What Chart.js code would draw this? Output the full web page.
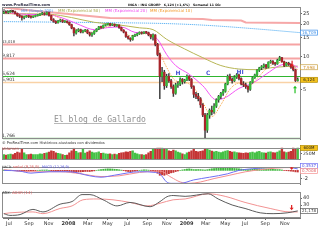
<!DOCTYPE html>
<html lang="es">
<head>
<meta charset="utf-8">
<title>INGA - ING GROEP semanal</title>
<script src="https://cdn.jsdelivr.net/npm/chart.js@4.4.1/dist/chart.umd.min.js"></script>
<style>
  body { margin: 0; width: 320px; height: 240px; overflow: hidden; background: #fff; position: relative; }
  canvas { position: absolute; left: 0; }
</style>
</head>
<body>
<canvas id="precio" width="320" height="144" style="top:0px"></canvas>
<canvas id="volumen" width="320" height="19" style="top:144px"></canvas>
<canvas id="macd" width="320" height="25" style="top:163px"></canvas>
<canvas id="adx" width="320" height="52" style="top:188px"></canvas>
<script>
// ---- datos semanales (viernes), desde el 15 jun 2007 hasta el 11 dic 2009 ----
const apertura = [25.3,25.8,25.5,25.9,26.3,26.0,25.2,24.0,23.6,23.0, 23.4,23.8,23.5,23.2,23.6,24.0,24.2,24.8,25.3,24.6,
  25.6,24.0,22.0,21.2,20.6,21.4,21.8,21.0,21.3,20.8, 19.8,18.4,16.6,17.4,17.8,16.9,17.3,17.6,16.6,15.9,
  16.4,17.2,18.0,18.9,18.6,19.5,19.9,20.2,19.6,20.0, 19.3,19.6,18.6,17.6,16.9,15.4,14.8,14.4,15.6,15.9,
  16.3,16.8,16.5,16.9,16.7,15.9,15.2,15.9,13.0,10.5, 6.6,7.2,5.4,6.6,6.0,5.3,4.6,5.5,5.6,6.2,
  5.9,6.1,6.6,6.2,5.3,4.5,4.3,4.1,3.6,2.9, 2.1,2.9,3.2,3.1,3.5,4.0,4.3,4.6,4.8,5.6,
  6.6,6.2,6.0,6.5,6.8,6.3,5.6,5.5,5.3,5.0, 5.8,6.4,6.8,7.5,7.9,8.1,8.4,8.0,8.9,9.1,
  8.7,8.6,9.3,9.8,9.0,8.3,8.7,8.5,8.0,7.6, 6.03];
const maximo = [26.2,26.3,26.2,26.8,26.9,26.4,25.4,24.5,24.0,23.8, 24.1,24.2,23.9,23.9,24.3,24.6,25.1,25.7,25.5,26.0,
  25.8,24.2,22.5,21.6,21.7,22.2,22.0,21.6,21.5,21.0, 20.0,18.6,17.8,18.2,18.0,17.6,17.9,17.8,16.9,16.7,
  17.4,18.2,19.1,19.2,19.7,20.1,20.5,20.4,20.2,20.1, 19.8,19.7,18.8,17.8,17.0,15.6,15.0,15.8,16.2,16.5,
  17.0,17.0,17.1,17.2,16.9,16.0,16.3,16.0,13.3,10.8, 8.0,7.5,6.9,7.0,6.2,5.5,5.7,5.9,6.4,6.3,
  6.2,6.8,6.7,6.3,5.4,4.7,4.6,4.2,3.7,3.0, 3.0,3.3,3.5,3.7,4.1,4.4,4.7,5.0,5.7,6.8,
  6.9,6.4,6.7,7.0,6.9,6.4,5.9,5.7,5.4,5.9, 6.5,6.9,7.6,8.0,8.3,8.6,8.5,9.0,9.3,9.2,
  8.9,9.5,10.1,9.9,9.1,8.9,8.9,8.6,8.1,7.7, 6.4];
const minimo = [25.0,25.2,25.1,25.7,25.6,24.9,23.6,23.0,21.8,22.3, 23.1,23.0,22.7,22.9,23.3,23.7,24.0,24.5,24.2,24.4,
  23.7,21.6,20.8,20.2,20.4,21.1,20.7,20.8,20.5,19.5, 18.1,15.6,16.2,17.0,16.6,16.6,17.0,16.3,15.5,15.4,
  16.1,17.0,17.8,18.3,18.4,19.2,19.6,19.3,19.4,19.0, 19.1,18.3,17.3,16.6,15.1,14.5,13.9,14.2,15.3,15.6,
  16.1,16.2,16.3,16.4,15.6,14.6,14.2,12.6,10.2,4.1, 5.9,5.0,5.2,5.8,5.1,4.3,4.5,5.2,5.4,5.6,
  5.7,6.0,6.0,5.1,4.2,4.1,3.9,3.4,2.8,1.766, 2.0,2.7,2.9,3.0,3.4,3.8,4.1,4.4,4.7,5.5,
  6.0,5.7,5.9,6.3,6.1,5.5,5.3,5.1,4.7,4.9, 5.7,6.3,6.7,7.3,7.6,7.9,7.8,7.9,8.7,8.5,
  8.3,8.5,9.2,8.9,8.1,8.2,8.3,7.8,7.4,5.9, 5.95];
const cierre = [25.8,25.5,25.9,26.3,26.0,25.2,24.0,23.6,23.0,23.4, 23.8,23.5,23.2,23.6,24.0,24.2,24.8,25.3,24.6,25.6,
  24.0,22.0,21.2,20.6,21.4,21.8,21.0,21.3,20.8,19.8, 18.4,16.6,17.4,17.8,16.9,17.3,17.6,16.6,15.9,16.4,
  17.2,18.0,18.9,18.6,19.5,19.9,20.2,19.6,20.0,19.3, 19.6,18.6,17.6,16.9,15.4,14.8,14.4,15.6,15.9,16.3,
  16.8,16.5,16.9,16.7,15.9,15.2,15.9,13.0,10.5,6.6, 7.2,5.4,6.6,6.0,5.3,4.6,5.5,5.6,6.2,5.9,
  6.1,6.6,6.2,5.3,4.5,4.3,4.1,3.6,2.9,2.1, 2.9,3.2,3.1,3.5,4.0,4.3,4.6,4.8,5.6,6.6,
  6.2,6.0,6.5,6.8,6.3,5.6,5.5,5.3,5.0,5.8, 6.4,6.8,7.5,7.9,8.1,8.4,8.0,8.9,9.1,8.7,
  8.6,9.3,9.8,9.0,8.3,8.7,8.5,8.0,7.6,6.03, 6.124];
// volumen en millones
const volumen = [220,190,210,240,220,270,330,300,460,300, 220,210,240,220,210,220,250,240,270,300,
  330,390,360,300,270,250,220,180,190,300, 390,510,360,300,310,450,280,330,390,330,
  300,310,340,270,280,250,240,250,220,240, 220,270,300,310,340,330,360,390,280,250,
  220,210,190,220,300,360,480,450,530,530, 530,480,450,390,360,420,390,330,300,250,
  220,300,330,390,450,360,340,360,390,450, 460,420,370,340,360,330,310,340,370,400,
  360,330,340,310,300,280,270,300,280,310, 330,300,340,360,310,300,280,330,340,310,
  300,330,390,600,340,310,330,360,600,480, 600];
// histograma MACD
const histograma = [0.05,0.03,0.02,0.04,-0.02,-0.08,-0.15,-0.2,-0.25,-0.22, -0.18,-0.15,-0.12,-0.08,-0.04,0,0.04,0.08,0.08,0.1,
  0.02,-0.08,-0.18,-0.25,-0.24,-0.2,-0.2,-0.18,-0.2,-0.28, -0.38,-0.5,-0.45,-0.38,-0.38,-0.32,-0.26,-0.26,-0.28,-0.22,
  -0.12,0,0.12,0.2,0.28,0.34,0.38,0.36,0.34,0.28, 0.24,0.16,0.06,-0.06,-0.18,-0.28,-0.34,-0.26,-0.18,-0.08,
  0.02,0.08,0.12,0.12,0.06,-0.05,-0.1,-0.35,-0.7,-1.2, -1.1,-1.2,-1.0,-0.8,-0.6,-0.5,-0.3,-0.15,0,0.12,
  0.22,0.32,0.38,0.3,0.2,0.2,0.22,0.2,0.15,0.1, 0.18,0.3,0.4,0.45,0.5,0.55,0.55,0.55,0.56,0.58,
  0.55,0.5,0.48,0.45,0.4,0.32,0.26,0.22,0.2,0.24, 0.3,0.34,0.38,0.4,0.4,0.38,0.34,0.34,0.32,0.28,
  0.22,0.2,0.2,0.1,-0.02,-0.08,-0.12,-0.18,-0.24,-0.36, -0.4];

// medias (semana, valor)
const sma200Sem = [0, 40, 70, 88, 110, 131];
const sma200Val = [21.1, 20.7, 20.3, 19.6, 18.2, 16.7];
const ema50Sem = [0, 20, 30, 40, 50, 60, 66, 72, 80, 88, 96, 104, 112, 120, 130];
const ema50Val = [25.0, 24.7, 23.0, 20.8, 19.8, 18.5, 17.8, 14.5, 11.8, 9.8, 8.3, 7.7, 7.6, 8.0, 8.2];
const ema20Sem = [0, 10, 20, 28, 34, 40, 46, 52, 58, 64, 68, 72, 76, 82, 88, 94, 98, 104, 110, 116, 122, 126, 130];
const ema20Val = [25.5, 24.6, 24.4, 22.0, 19.5, 17.8, 18.6, 18.8, 16.8, 16.3, 14.5, 10.5, 8.3, 6.9, 5.4, 4.0, 4.2, 5.1, 5.7, 6.9, 8.3, 8.6, 8.0];
const ema10Sem = [0, 8, 16, 20, 26, 32, 38, 44, 50, 56, 62, 66, 69, 72, 76, 80, 84, 88, 92, 96, 100, 104, 108, 112, 116, 120, 124, 128, 130];
const ema10Val = [25.8, 24.2, 24.0, 24.8, 21.8, 18.0, 16.8, 18.5, 19.8, 15.6, 16.3, 15.8, 11.0, 8.0, 6.0, 5.8, 5.2, 3.8, 2.8, 3.6, 5.0, 5.7, 5.3, 6.3, 7.7, 8.7, 8.9, 8.3, 7.6];
const techoSem = [0, 10, 24, 47, 88, 92, 105, 107, 131];
const techoVal = [28.5, 27.0, 25.3, 22.8, 22.3, 21.8, 21.6, 20.7, 20.5];
const niveles = [13.018, 9.817, 6.624, 5.901, 1.766];

const macdSem = [0, 7, 12, 20, 29, 38, 43, 49, 60, 67, 69, 72, 74, 78, 84, 91, 99, 104, 112, 118, 124, 128, 130];
const macdVal = [0, -0.17, -0.67, -0.33, -0.33, -1.33, -1.67, -1.17, -0.33, -0.5, -0.83, -2.83, -3.17, -3.17, -2.33, -1.67, -0.83, 0, 0.5, 0.75, 0.83, 0.6, 0.35];
const senalSem = [0, 12, 25, 34, 43, 51, 60, 69, 74, 78, 82, 87, 93, 100, 107, 116, 124, 130];
const senalVal = [0.17, -0.33, -0.33, -0.83, -1.5, -1.33, -0.5, -0.17, -1.67, -2.83, -3.17, -2.83, -2.0, -1.17, -0.33, 0.33, 0.67, 0.7];

const adxSem = [0, 2.7, 7.2, 12.9, 17.3, 24.9, 30.2, 34.6, 38.1, 43.9, 50.1, 55.8, 64.7, 69.1, 72.2, 74.9, 80.2, 90.4, 94.8, 101, 106.7, 113.4, 119.1, 125.3, 130];
const adxVal = [17.5, 15, 16.2, 23.7, 20, 31.2, 35, 45, 45, 37.5, 28.7, 33.7, 27.5, 35, 42, 43.7, 42.5, 46.2, 38.7, 30, 25, 18.7, 17.5, 18.7, 21.5];
const adxrSem = [0, 2.7, 12.9, 17.3, 24.9, 30.2, 35, 41.2, 48.3, 55.8, 63.4, 69.1, 74.9, 80.2, 90.4, 97.9, 106.7, 117.8, 126.6, 130];
const adxrVal = [17.5, 18.7, 20, 17.5, 25, 28.7, 37.5, 38.7, 37.5, 33.7, 28.7, 32.5, 37.5, 38.7, 46.2, 42.5, 33.7, 25, 20, 20];

const etiquetasMeses = ['Jul', 'Sep', 'Nov', '2008', 'Mar', 'May', 'Jul', 'Sep', 'Nov', '2009', 'Mar', 'May', 'Jul', 'Sep', 'Nov'];
const fechasMeses = ['2007-07-01', '2007-09-01', '2007-11-01', '2008-01-01', '2008-03-01', '2008-05-01', '2008-07-01',
  '2008-09-01', '2008-11-01', '2009-01-01', '2009-03-01', '2009-05-01', '2009-07-01', '2009-09-01', '2009-11-01'];
const ticksPrecio = [5, 10, 15, 20, 25];

// ---- utilidades ----
const inicio = Date.UTC(2007, 5, 15);
const posMeses = fechasMeses.map(f => (Date.parse(f) - inicio) / (7 * 864e5));
const semanas = cierre.map((_, i) => i);
const puntos = (sem, val) => sem.map((s, k) => ({ x: s, y: val[k] }));
const sube = semanas.map(i => cierre[i] >= apertura[i]);

function texto(ctx, s, x, y, ancho, familia, peso, color) {
  ctx.font = peso + ' 10px ' + familia;
  const size = 10 * ancho / ctx.measureText(s).width;
  ctx.font = peso + ' ' + size.toFixed(2) + 'px ' + familia;
  ctx.fillStyle = color;
  ctx.textBaseline = 'alphabetic';
  ctx.textAlign = 'left';
  ctx.fillText(s, x, y);
}
function caja(ctx, py, s, borde, fondo, color) {
  ctx.fillStyle = fondo;
  ctx.fillRect(300.5, py - 2.5, 17, 5);
  ctx.strokeStyle = borde;
  ctx.lineWidth = 0.7;
  ctx.strokeRect(300.5, py - 2.5, 17, 5);
  ctx.font = '4px "DejaVu Sans"';
  ctx.fillStyle = color;
  ctx.textAlign = 'center';
  ctx.textBaseline = 'middle';
  ctx.fillText(s, 309, py + 0.3);
}
function flecha(ctx, x, y1, y2, color) {
  const d = y2 > y1 ? 1 : -1;
  ctx.fillStyle = color;
  ctx.fillRect(x - 0.6, Math.min(y1, y2 - d * 2), 1.2, Math.abs(y2 - y1) - 2);
  ctx.beginPath();
  ctx.moveTo(x - 2, y2 - d * 2.5);
  ctx.lineTo(x + 2, y2 - d * 2.5);
  ctx.lineTo(x, y2);
  ctx.closePath();
  ctx.fill();
}
function marco(chart) {
  const { ctx, chartArea: a } = chart;
  ctx.save();
  ctx.strokeStyle = '#8c8c8c';
  ctx.lineWidth = 1;
  ctx.strokeRect(Math.round(a.left) - 0.5, Math.round(a.top) + 0.5, Math.round(a.right - a.left) + 1, Math.round(a.bottom - a.top) - 1);
  ctx.restore();
}

const comunes = {
  animation: false, responsive: false, events: [],
  layout: { padding: { left: 3, right: 0, top: 0, bottom: 0 } },
  plugins: { legend: { display: false }, tooltip: { enabled: false } }
};
const ejeX = { type: 'linear', min: -0.354, max: 131.0, offset: false, display: false };
function ejeY(extra) {
  return Object.assign({
    position: 'right',
    afterFit: s => { s.width = 20; },
    grid: { drawOnChartArea: false, tickLength: 2, color: '#666' },
    border: { color: '#777' },
    ticks: { font: { size: 5, family: '"DejaVu Sans"' }, color: '#333', padding: 1 }
  }, extra);
}
const linea = (data, color, ancho, guiones) => ({
  type: 'line', data, borderColor: color, borderWidth: ancho, borderDash: guiones || [],
  pointRadius: 0, cubicInterpolationMode: 'monotone', fill: false
});

// ---- panel de precio ----
const estilosNivel = [
  { color: '#f6a3a3', w: 2 }, { color: '#f6a3a3', w: 2 }, { color: '#2fb52f', w: 1 },
  { color: '#f9d2a6', w: 1.5 }, { color: '#c2e8c0', w: 2 }
];
const extrasPrecio = {
  id: 'extrasPrecio',
  beforeDatasetsDraw(chart) {
    const { ctx, chartArea: a, scales: { y } } = chart;
    ctx.save();
    niveles.forEach((v, k) => {
      const py = Math.round(y.getPixelForValue(v)) + 0.5;
      ctx.strokeStyle = estilosNivel[k].color;
      ctx.lineWidth = estilosNivel[k].w;
      ctx.beginPath(); ctx.moveTo(a.left, py); ctx.lineTo(a.right, py); ctx.stroke();
      texto(ctx, v.toFixed(3).replace('.', ','), 2, py - 1.5, 13, '"DejaVu Sans"', 'normal', '#333');
    });
    // marca de agua
    texto(ctx, 'El blog de Gallardo', 54, 122, 92, '"DejaVu Sans Mono"', 'normal', '#8f8f8f');
    ctx.fillStyle = '#9a9a9a';
    ctx.fillRect(54, 123.3, 92, 0.7);
    ctx.restore();
  },
  afterDraw(chart) {
    const { ctx, scales: { x, y } } = chart;
    marco(chart);
    ctx.save();
    texto(ctx, 'www.ProRealTime.com', 2, 5.5, 48, '"DejaVu Sans"', 'bold', '#2a2a40');
    texto(ctx, 'INGA - ING GROEP   6,124 (+1,6%)   Semanal 11 Dic', 128, 5.5, 93, '"DejaVu Sans"', 'bold', '#111');
    texto(ctx, 'Precio', 3, 12, 11, '"DejaVu Sans"', 'normal', '#222');
    texto(ctx, 'MM (Simple 200)', 21, 12, 32, '"DejaVu Sans"', 'normal', '#3a8ee8');
    texto(ctx, 'MM (Exponencial 50)', 58, 12, 42, '"DejaVu Sans"', 'normal', '#a9a94a');
    texto(ctx, 'MM (Exponencial 20)', 105, 12, 42, '"DejaVu Sans"', 'normal', '#ee44ee');
    texto(ctx, 'MM (Exponencial 10)', 150, 12, 42, '"DejaVu Sans"', 'normal', '#f39a2a');
    texto(ctx, '\u00a9 ProRealTime.com Hist\u00f3ricos ajustados con dividendos', 2, 143.5, 103, '"DejaVu Sans"', 'normal', '#333');
    // letras del hombro-cabeza-hombro
    const letra = (s, sem, val) => {
      ctx.font = 'bold 6px "DejaVu Sans"';
      ctx.fillStyle = '#4a5ad6';
      ctx.textAlign = 'center';
      ctx.textBaseline = 'alphabetic';
      ctx.fillText(s, x.getPixelForValue(sem), y.getPixelForValue(val));
    };
    letra('H', 77, 6.85);
    letra('C', 90.4, 6.85);
    letra('HI', 104.5, 6.9);
    flecha(ctx, x.getPixelForValue(127.5), y.getPixelForValue(9.2), y.getPixelForValue(8.0), '#e02020');
    flecha(ctx, x.getPixelForValue(128.8), y.getPixelForValue(4.6), y.getPixelForValue(5.4), '#22c022');
    caja(ctx, y.getPixelForValue(16.709), '16,709', '#3a8ee8', '#fff', '#3a8ee8');
    caja(ctx, y.getPixelForValue(8.0), '7,998', '#c9a040', '#fff', '#d08a20');
    caja(ctx, y.getPixelForValue(6.124), '6,124', '#b08a00', '#f4c21c', '#222');
    ctx.restore();
  }
};

new Chart(document.getElementById('precio'), {
  type: 'bar',
  data: {
    datasets: [
      { type: 'bar', data: semanas.map(i => ({ x: i, y: [apertura[i], cierre[i]] })), backgroundColor: semanas.map(i => sube[i] ? '#35b83a' : '#a8242a'),
        borderWidth: 0, barThickness: 1.7, minBarLength: 1, grouped: false, order: 0 },
      { type: 'bar', data: semanas.map(i => ({ x: i, y: [minimo[i], maximo[i]] })), backgroundColor: '#3a3a3a', barThickness: 0.8, grouped: false, order: 1 },
      Object.assign(linea(puntos(ema10Sem, ema10Val), '#f7a13a', 1, [1, 1]), { order: 2 }),
      Object.assign(linea(puntos(ema20Sem, ema20Val), '#f455f4', 1), { order: 3 }),
      Object.assign(linea(puntos(ema50Sem, ema50Val), '#b7b655', 1), { order: 4 }),
      Object.assign(linea(puntos(sma200Sem, sma200Val), '#3aa2f0', 1, [1, 1]), { order: 5 }),
      Object.assign(linea(puntos(techoSem, techoVal), '#f6a8a8', 2), { order: 6, cubicInterpolationMode: 'default', tension: 0 })
    ]
  },
  options: Object.assign({}, comunes, {
    layout: { padding: { left: 3, right: 0, top: 7, bottom: 5 } },
    scales: {
      x: ejeX,
      y: ejeY({
        type: 'logarithmic', min: 1.74, max: 28.8,
        afterBuildTicks: s => { s.ticks = ticksPrecio.map(v => ({ value: v })); },
        ticks: { font: { size: 5, family: '"DejaVu Sans"' }, color: '#333', padding: 1, callback: v => String(v) }
      })
    }
  }),
  plugins: [extrasPrecio]
});

// ---- volumen ----
new Chart(document.getElementById('volumen'), {
  type: 'bar',
  data: {
    datasets: [{ data: semanas.map(i => ({ x: i, y: volumen[i] })), backgroundColor: semanas.map(i => sube[i] ? '#44c144' : '#c43434'), barThickness: 1.7, grouped: false }]
  },
  options: Object.assign({}, comunes, {
    layout: { padding: { left: 3, right: 0, top: 1, bottom: 1 } },
    scales: {
      x: ejeX,
      y: ejeY({
        min: 0, max: 530,
        afterBuildTicks: s => { s.ticks = [{ value: 250 }]; },
        ticks: { font: { size: 4.5, family: '"DejaVu Sans"' }, color: '#333', padding: 1, callback: v => v + 'M' }
      })
    }
  }),
  plugins: [{
    id: 'extrasVol',
    afterDraw(chart) {
      const { ctx } = chart;
      marco(chart);
      ctx.save();
      texto(ctx, 'Volumen', 2, 5.5, 17, '"DejaVu Sans"', 'normal', '#c04848');
      caja(ctx, 4, '600M', '#b08a00', '#f4c21c', '#222');
      ctx.restore();
    }
  }]
});

// ---- MACD ----
new Chart(document.getElementById('macd'), {
  type: 'bar',
  data: {
    datasets: [
      linea(puntos(macdSem, macdVal), '#6f6ff5', 1),
      linea(puntos(senalSem, senalVal), '#f59090', 1),
      { type: 'bar', data: semanas.map(i => ({ x: i, y: histograma[i] })), backgroundColor: semanas.map(i => histograma[i] >= 0 ? '#3fb83f' : '#c43434'), barThickness: 1.3, grouped: false }
    ]
  },
  options: Object.assign({}, comunes, {
    scales: {
      x: ejeX,
      y: ejeY({
        min: -3.33, max: 0.83,
        afterBuildTicks: s => { s.ticks = [{ value: -2 }]; },
        ticks: { font: { size: 5, family: '"DejaVu Sans"' }, color: '#333', padding: 1, callback: v => String(v) }
      })
    }
  }),
  plugins: [{
    id: 'extrasMacd',
    afterDraw(chart) {
      const { ctx, scales: { x, y } } = chart;
      marco(chart);
      ctx.save();
      texto(ctx, 'MACD:', 2, 4.5, 10, '"DejaVu Sans"', 'normal', '#333');
      texto(ctx, 'se\u00f1al (9,26,9)', 13, 4.5, 26, '"DejaVu Sans"', 'normal', '#e06060');
      texto(ctx, 'MACD (12,26,9)', 42, 4.5, 27, '"DejaVu Sans"', 'normal', '#4a4ae0');
      flecha(ctx, x.getPixelForValue(127.3), y.getPixelForValue(0.8), y.getPixelForValue(0.1), '#e02020');
      caja(ctx, 3, '0,3537', '#6f6ff5', '#fff', '#4a4ae0');
      caja(ctx, 8, '0,7008', '#f59090', '#fff', '#e06060');
      ctx.restore();
    }
  }]
});

// ---- ADX ----
new Chart(document.getElementById('adx'), {
  type: 'line',
  data: {
    datasets: [
      linea(puntos(adxSem, adxVal), '#5a5a5a', 1),
      linea(puntos(adxrSem, adxrVal), '#f29292', 1)
    ]
  },
  options: Object.assign({}, comunes, {
    scales: {
      x: {
        type: 'linear', min: -0.354, max: 131.0, offset: false, position: 'bottom',
        afterBuildTicks: s => { s.ticks = posMeses.map(v => ({ value: v })); },
        afterFit: s => { s.height = 22; },
        grid: { drawOnChartArea: false, tickLength: 2, color: '#666' },
        border: { color: '#777' },
        ticks: {
          autoSkip: false, maxRotation: 0, padding: 1, color: '#333',
          font: c => ({ size: 5, family: '"DejaVu Sans"', weight: /^\d/.test(etiquetasMeses[c.index] || '') ? 'bold' : 'normal' }),
          callback: (v, i) => etiquetasMeses[i]
        }
      },
      y: ejeY({
        min: 11.25, max: 48.75,
        afterBuildTicks: s => { s.ticks = [{ value: 40 }, { value: 30 }]; },
        ticks: { font: { size: 5, family: '"DejaVu Sans"' }, color: '#333', padding: 1, callback: v => String(v) }
      })
    }
  }),
  plugins: [{
    id: 'extrasAdx',
    afterDraw(chart) {
      const { ctx, scales: { x, y } } = chart;
      marco(chart);
      ctx.save();
      texto(ctx, 'ADX:', 2, 5.5, 9, '"DejaVu Sans"', 'normal', '#333');
      texto(ctx, 'ADXR (14)', 12, 5.5, 20, '"DejaVu Sans"', 'normal', '#e06060');
      flecha(ctx, x.getPixelForValue(127.3), y.getPixelForValue(30), y.getPixelForValue(22.5), '#e02020');
      caja(ctx, y.getPixelForValue(21.5), '21,178', '#5a5a5a', '#fff', '#333');
      ctx.restore();
    }
  }]
});
</script>
</body>
</html>
